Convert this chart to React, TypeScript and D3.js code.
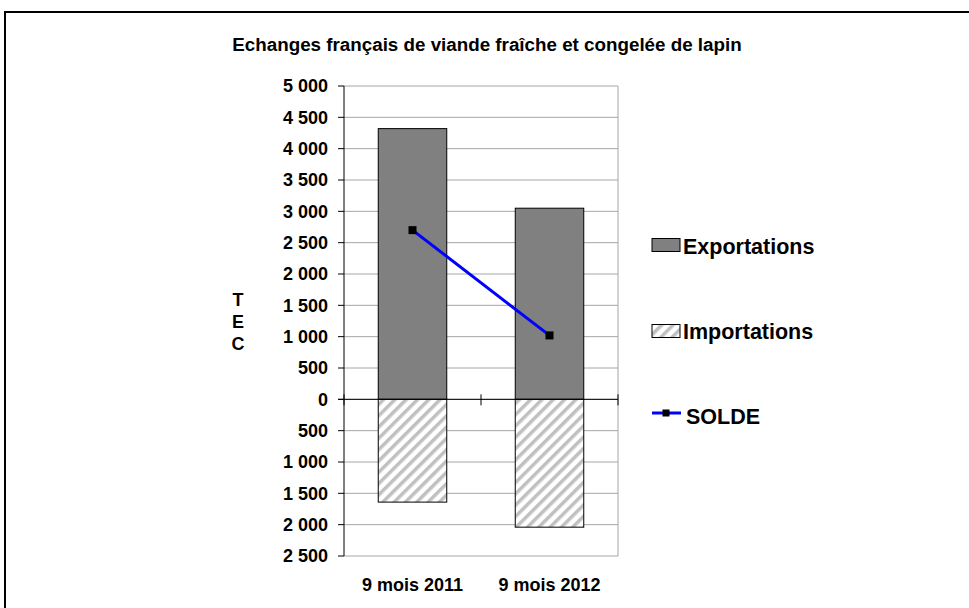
import * as d3 from 'd3';

const categories = ['9 mois 2011', '9 mois 2012'];
const exportations = [4320, 3050];
const importations = [1640, 2040];
const solde = [2700, 1020];
const yTicks = [5000, 4500, 4000, 3500, 3000, 2500, 2000, 1500, 1000, 500, 0, -500, -1000, -1500, -2000, -2500];

const fmt = (v: number) => d3.format(',')(Math.abs(v)).replace(/,/g, ' ');

export default function App() {
    const width = 969;
    const height = 608;
    const plot = { left: 344, right: 618, top: 86, bottom: 556 };

    const x = d3.scaleBand().domain(categories).range([plot.left, plot.right]).paddingInner(0.5).paddingOuter(0.25);
    const y = d3.scaleLinear().domain([-2500, 5000]).range([plot.bottom, plot.top]);
    const cx = (c: string) => (x(c) as number) + x.bandwidth() / 2;

    const line = d3.line<number>().x((d, i) => cx(categories[i])).y((d) => y(d));
    const font = 'Liberation Sans, Arial, sans-serif';
    const y0 = y(0);

    return (
        <svg width={width} height={height} style={{ position: 'absolute', left: 0, top: 0 }} fontFamily={font} fontWeight="bold">
            <defs>
                <pattern id="hatch" width="8" height="8" patternUnits="userSpaceOnUse" patternTransform="rotate(45)">
                    <rect width="8" height="8" fill="#fff" />
                    <rect width="3.5" height="8" fill="#c0c0c0" />
                </pattern>
            </defs>
            <rect width={width} height={height} fill="#fff" />
            <path d={`M5,${height + 5} V12 H${width + 5}`} fill="none" stroke="#000" strokeWidth={2} />

            <text x={487} y={44} dy="0.35em" textAnchor="middle" fontSize={18.8}>Echanges français de viande fraîche et congelée de lapin</text>

            {/* grid */}
            {yTicks.map((t) => (
                <line key={t} x1={plot.left} x2={plot.right} y1={y(t)} y2={y(t)} stroke="#a6a6a6" strokeWidth={1} />
            ))}
            <line x1={plot.right} x2={plot.right} y1={plot.top} y2={plot.bottom} stroke="#a6a6a6" />

            {/* bars */}
            {categories.map((c, i) => (
                <g key={c}>
                    <rect x={x(c)} y={y(exportations[i])} width={x.bandwidth()} height={y0 - y(exportations[i])} fill="#808080" stroke="#000" strokeWidth={1} />
                    <rect x={x(c)} y={y0} width={x.bandwidth()} height={y(-importations[i]) - y0} fill="url(#hatch)" stroke="#000" strokeWidth={1} />
                </g>
            ))}

            {/* axes */}
            <line x1={plot.left} x2={plot.left} y1={plot.top} y2={plot.bottom} stroke="#000" />
            {yTicks.map((t) => (
                <g key={t}>
                    <line x1={plot.left - 6} x2={plot.left} y1={y(t)} y2={y(t)} stroke="#000" />
                    <text x={328} y={y(t)} dy="0.35em" textAnchor="end" fontSize={18}>{fmt(t)}</text>
                </g>
            ))}
            <line x1={plot.left - 6} x2={plot.right} y1={y0} y2={y0} stroke="#000" />
            {[plot.left, (plot.left + plot.right) / 2, plot.right].map((p) => (
                <line key={p} x1={p} x2={p} y1={y0 - 5} y2={y0 + 6} stroke="#000" />
            ))}
            {categories.map((c) => (
                <text key={c} x={cx(c)} y={585} dy="0.35em" textAnchor="middle" fontSize={18}>{c}</text>
            ))}
            {['T', 'E', 'C'].map((l, i) => (
                <text key={l} x={238} y={300 + i * 22} dy="0.35em" textAnchor="middle" fontSize={18}>{l}</text>
            ))}

            {/* solde */}
            <path d={line(solde) as string} fill="none" stroke="#0000ff" strokeWidth={3} />
            {solde.map((v, i) => (
                <rect key={i} x={cx(categories[i]) - 4} y={y(v) - 4} width={8} height={8} fill="#000" />
            ))}

            {/* legend */}
            <rect x={652} y={238.5} width={28} height={13} fill="#808080" stroke="#000" />
            <text x={683} y={246} dy="0.35em" fontSize={21.5}>Exportations</text>
            <rect x={652} y={324.5} width={28} height={13} fill="url(#hatch)" stroke="#000" />
            <text x={683} y={331} dy="0.35em" fontSize={21.5}>Importations</text>
            <line x1={652} x2={681} y1={413} y2={413} stroke="#0000ff" strokeWidth={3} />
            <rect x={662.5} y={409.5} width={7} height={7} fill="#000" />
            <text x={686} y={416} dy="0.35em" fontSize={21.5}>SOLDE</text>
        </svg>
    );
}
